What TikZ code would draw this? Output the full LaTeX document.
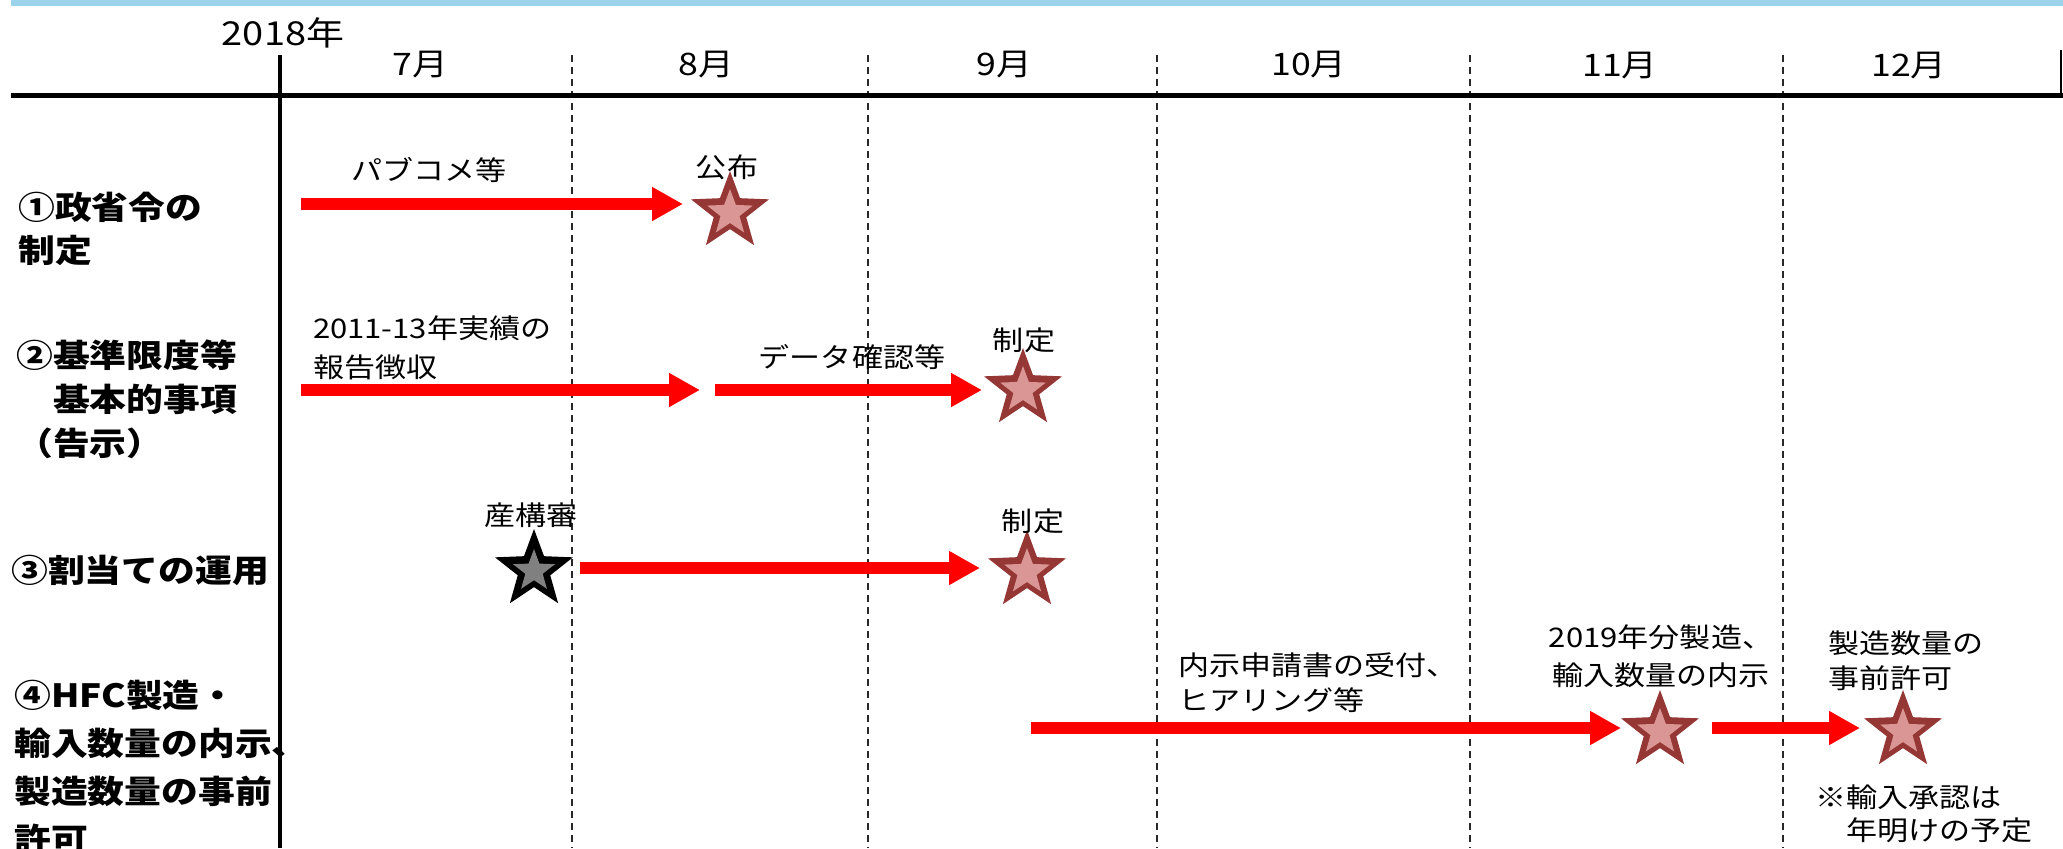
\documentclass[tikz,border=0pt]{standalone}
\usepackage{fontspec}
\setmainfont{Noto Sans CJK JP}[FakeStretch=1.15]
\usetikzlibrary{arrows.meta,shapes.geometric}
\definecolor{bandblue}{RGB}{155,211,235}
\definecolor{stardark}{RGB}{149,55,53}
\definecolor{starpink}{RGB}{217,150,148}
\definecolor{dashgray}{RGB}{40,40,40}
\tikzset{
  txt/.style={font=\fontsize{13.5pt}{17pt}\selectfont, inner sep=0pt, outer sep=0pt},
  mon/.style={font=\fontsize{15.5pt}{18pt}\selectfont, inner sep=0pt},
  rowlbl/.style={font=\bfseries\fontsize{16pt}{22pt}\selectfont, inner sep=0pt, align=left, anchor=west},
  redarrow/.style={draw=red, line width=6pt, -{Triangle[length=15.5pt,width=16pt]}},
  monthsep/.style={draw=dashgray, line width=1pt, dash pattern=on 3.5pt off 2.5pt},
  outerstar/.style={star, star points=5, star point ratio=2.4, minimum size=41pt, inner sep=0pt, fill=stardark},
  innerstar/.style={star, star points=5, star point ratio=2.4, minimum size=24pt, inner sep=0pt, fill=starpink},
  outerblack/.style={star, star points=5, star point ratio=2.4, minimum size=41pt, inner sep=0pt, fill=black},
  innergray/.style={star, star points=5, star point ratio=2.4, minimum size=22pt, inner sep=0pt, fill=gray},
}
\begin{document}
\begin{tikzpicture}[x=0.5pt,y=-0.5pt]
\useasboundingbox (0,0) rectangle (2063,848);
% top band
\fill[bandblue] (11,0) rectangle (2063,6);
% grid
\foreach \xx in {572,868,1157,1470,1783}{
  \draw[monthsep] (\xx,55) -- (\xx,848);
}
\draw[line width=2.5pt] (11,95.5) -- (2063,95.5);
\draw[line width=2pt] (280,55) -- (280,848);
\draw[line width=1pt] (2061,50) -- (2061,95);
% header
\node[mon, font=\fontsize{16.5pt}{18pt}\selectfont] (y2018) at (283,33) {2018年};
\node[mon] (m7) at (420,65) {7月};
\node[mon] (m8) at (706,65) {8月};
\node[mon] (m9) at (1004,65) {9月};
\node[mon] (m10) at (1309,65) {10月};
\node[mon] (m11) at (1620,66) {11月};
\node[mon] (m12) at (1909,66) {12月};
% row labels
\node[rowlbl, font=\bfseries\fontsize{16pt}{21.5pt}\selectfont] (L1) at (18,228.5) {①政省令の\\制定};
\node[rowlbl] (L2) at (16,399) {②基準限度等\\　基本的事項\\（告示）};
\node[rowlbl] (L3) at (11,570) {③割当ての運用};
\node[rowlbl, font=\bfseries\fontsize{16pt}{24pt}\selectfont] (L4) at (14,767) {④HFC製造・\\輸入数量の内示、\\製造数量の事前\\許可};
% stars
\node[outerstar] (s1) at (730,212) {};
\node[innerstar] (s1i) at (730,213) {};
\node[outerstar] (s2) at (1023,389) {};
\node[innerstar] (s2i) at (1023,390) {};
\node[outerblack] (s3a) at (534,570) {};
\node[innergray] (s3ai) at (534,571) {};
\node[outerstar] (s3b) at (1027,571) {};
\node[innerstar] (s3bi) at (1027,572) {};
\node[outerstar] (s4a) at (1660,731) {};
\node[innerstar] (s4ai) at (1660,732) {};
\node[outerstar] (s4b) at (1903,731) {};
\node[innerstar] (s4bi) at (1903,732) {};
% texts
\node[txt] (t1) at (429,170) {パブコメ等};
\node[txt] (t1s) at (727,167) {公布};
\node[txt, align=left, anchor=west, font=\fontsize{13.5pt}{19.5pt}\selectfont] (t2a) at (313,347.5) {2011-13年実績の\\報告徴収};
\node[txt] (t2b) at (852,357) {データ確認等};
\node[txt] (t2s) at (1024,340) {制定};
\node[txt] (t3a) at (531,515) {産構審};
\node[txt] (t3s) at (1033,521) {制定};
\node[txt, align=left, anchor=west, font=\fontsize{13.5pt}{17.5pt}\selectfont] (t4a) at (1178,682.5) {内示申請書の受付、\\ヒアリング等};
\node[txt, align=center, font=\fontsize{13.5pt}{19pt}\selectfont] (t4s) at (1661,656) {2019年分製造、\\輸入数量の内示};
\node[txt, align=left, anchor=west, font=\fontsize{13.5pt}{17.5pt}\selectfont] (t4b) at (1828,660.5) {製造数量の\\事前許可};
\node[txt, align=left, anchor=west, font=\fontsize{13.5pt}{16.5pt}\selectfont] (t4n) at (1815,813.5) {※輸入承認は\\　年明けの予定};
% arrows
\coordinate (a1s) at (301,204); \coordinate (a1e) at (683,204);
\coordinate (a2s) at (301,390); \coordinate (a2e) at (700,390);
\coordinate (a3s) at (715,390); \coordinate (a3e) at (982,390);
\coordinate (a4s) at (580,568); \coordinate (a4e) at (980,568);
\coordinate (a5s) at (1031,728); \coordinate (a5e) at (1621,728);
\coordinate (a6s) at (1712,728); \coordinate (a6e) at (1860,728);
\draw[redarrow] (a1s) -- (a1e);
\draw[redarrow] (a2s) -- (a2e);
\draw[redarrow] (a3s) -- (a3e);
\draw[redarrow] (a4s) -- (a4e);
\draw[redarrow] (a5s) -- (a5e);
\draw[redarrow] (a6s) -- (a6e);
\end{tikzpicture}
\end{document}
